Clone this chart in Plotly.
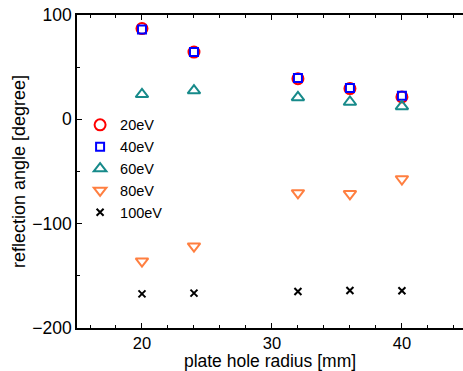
import plotly.graph_objects as go

radius = [20, 24, 32, 36, 40]
ev20 = [87, 64.5, 39, 29.5, 21.5]
ev40 = [86, 64.5, 39.5, 30, 22.6]
ev60 = [24, 27.6, 21, 16.6, 12.4]
ev80 = [-136, -121.6, -70.5, -71.4, -57.2]
ev100 = [-167.3, -166.6, -165, -164, -164.3]

series = [
    ("20eV", ev20, "circle-open", "#ff0000", 11),
    ("40eV", ev40, "square-open", "#0000ff", 8),
    ("60eV", ev60, "triangle-up-open", "#178a8a", 11),
    ("80eV", ev80, "triangle-down-open", "#ff7f40", 11),
    ("100eV", ev100, "x-thin-open", "#000000", 7),
]

fig = go.Figure()
for name, ys, sym, col, sz in series:
    fig.add_trace(go.Scatter(
        x=radius, y=ys, mode="markers", name=name,
        marker=dict(symbol=sym, size=sz, color=col, line=dict(color=col, width=2)),
    ))

font = "Liberation Sans, Arial, sans-serif"
fig.update_layout(
    width=463, height=371,
    margin=dict(l=77, r=0, t=15, b=43),
    paper_bgcolor="white", plot_bgcolor="white",
    font=dict(family=font, size=18, color="black"),
    showlegend=True,
    legend=dict(x=0.008, y=0.7, xanchor="left", yanchor="top",
                font=dict(size=14.5), bgcolor="rgba(0,0,0,0)",
                tracegroupgap=0, itemwidth=30),
    xaxis=dict(
        range=[15, 44.7], showgrid=False, zeroline=False,
        showline=True, linecolor="black", linewidth=1.5, mirror="ticks",
        ticks="inside", ticklen=5, tickcolor="black", tickwidth=1,
        tickvals=[20, 30, 40], ticktext=["20", "30", "40"],
        ticklabelstandoff=-1,
        minor=dict(ticks="inside", ticklen=3, tickcolor="black", dtick=2, tick0=0),
        title=dict(text="plate hole radius [mm]", standoff=4, font=dict(size=17.5)),
        tickfont=dict(size=16.5),
    ),
    yaxis=dict(
        range=[-200, 100], showgrid=False, zeroline=False,
        showline=True, linecolor="black", linewidth=1.5, mirror=False,
        ticks="inside", ticklen=5, tickcolor="black", tickwidth=1,
        tickvals=[-200, -100, 0, 100], ticktext=["\u2212200", "\u2212100", "0", "100"],
        minor=dict(ticks="inside", ticklen=3, tickcolor="black", dtick=50),
        title=dict(text="reflection angle [degree]", standoff=2, font=dict(size=18)),
        tickfont=dict(size=17.5),
    ),
)

fig.write_html("out.html")
